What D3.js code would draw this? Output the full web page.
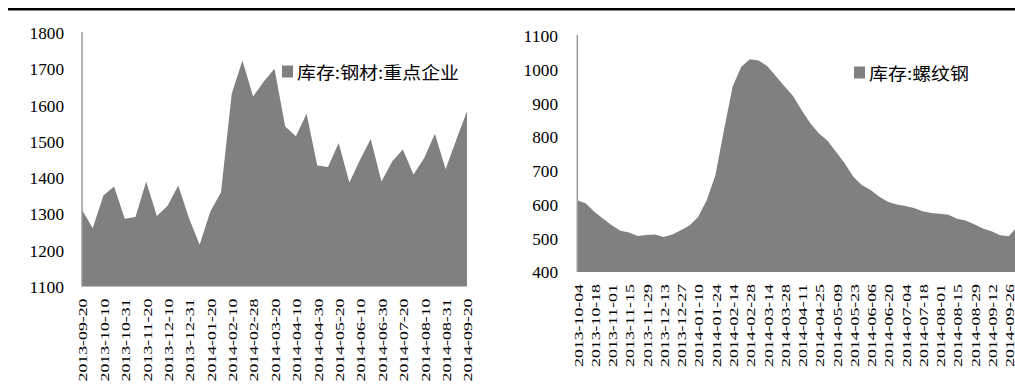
<!DOCTYPE html>
<html><head><meta charset="utf-8">
<script src="https://cdn.jsdelivr.net/npm/d3@7"></script>
<style>body{margin:0;background:#fff}svg{display:block}</style>
</head><body>
<svg id="c" width="1015" height="389"></svg>
<script>
// Left chart: 库存:钢材:重点企业 (dekad data)
const leftDates = ["2013-09-20","2013-09-30","2013-10-10","2013-10-20","2013-10-31","2013-11-10","2013-11-20","2013-11-30","2013-12-10","2013-12-20","2013-12-31","2014-01-10","2014-01-20","2014-01-31","2014-02-10","2014-02-20","2014-02-28","2014-03-10","2014-03-20","2014-03-31","2014-04-10","2014-04-20","2014-04-30","2014-05-10","2014-05-20","2014-05-31","2014-06-10","2014-06-20","2014-06-30","2014-07-10","2014-07-20","2014-07-31","2014-08-10","2014-08-20","2014-08-31","2014-09-10","2014-09-20"];
const leftValues = [1312,1261,1351,1376,1287,1292,1390,1295,1323,1379,1289,1215,1307,1360,1632,1724,1625,1666,1701,1542,1515,1577,1434,1430,1496,1387,1450,1507,1390,1445,1478,1409,1455,1522,1424,1505,1584];
const leftTicksY = [1100,1200,1300,1400,1500,1600,1700,1800];
const leftLegend = "库存:钢材:重点企业";

// Right chart: 库存:螺纹钢 (weekly data)
const rightDates = ["2013-10-04","2013-10-11","2013-10-18","2013-10-25","2013-11-01","2013-11-08","2013-11-15","2013-11-22","2013-11-29","2013-12-06","2013-12-13","2013-12-20","2013-12-27","2014-01-03","2014-01-10","2014-01-17","2014-01-24","2014-02-07","2014-02-14","2014-02-21","2014-02-28","2014-03-07","2014-03-14","2014-03-21","2014-03-28","2014-04-04","2014-04-11","2014-04-18","2014-04-25","2014-05-02","2014-05-09","2014-05-16","2014-05-23","2014-05-30","2014-06-06","2014-06-13","2014-06-20","2014-06-27","2014-07-04","2014-07-11","2014-07-18","2014-07-25","2014-08-01","2014-08-08","2014-08-15","2014-08-22","2014-08-29","2014-09-05","2014-09-12","2014-09-19","2014-09-26","2014-10-10"];
const rightValues = [613,603,578,558,539,522,517,507,510,511,504,511,524,538,563,613,687,821,950,1009,1031,1027,1011,981,951,922,880,841,811,789,756,722,682,657,643,623,608,600,596,590,580,575,573,570,558,553,542,529,521,509,506,535];
const rightTicksY = [400,500,600,700,800,900,1000,1100];
const rightLegend = "库存:螺纹钢";

const svg = d3.select("#c");
const FILL = "#808080";

// top rule
svg.append("rect").attr("x", 8).attr("y", 8).attr("width", 1007).attr("height", 2.5).attr("fill", "#000");

function drawPanel(cfg) {
  const g = svg.append("g");
  const x = d3.scalePoint().domain(cfg.dates).range([cfg.x0, cfg.x1]);
  const y = d3.scaleLinear().domain(cfg.yDomain).range([cfg.yBottom, cfg.yTop]);
  const clipId = "clip" + cfg.id;
  svg.append("clipPath").attr("id", clipId).append("rect")
    .attr("x", cfg.x0).attr("y", 0).attr("width", 1015 - cfg.x0).attr("height", 389);

  const area = d3.area()
    .x((d, i) => x(cfg.dates[i]))
    .y0(y(cfg.yDomain[0]))
    .y1(d => y(d));
  g.append("path").datum(cfg.values).attr("d", area).attr("fill", FILL)
    .attr("clip-path", `url(#${clipId})`);

  // vertical axis line
  g.append("line").attr("x1", cfg.x0).attr("x2", cfg.x0)
    .attr("y1", y(cfg.yDomain[1]) - 1).attr("y2", y(cfg.yDomain[0]))
    .attr("stroke", "#9a9a9a").attr("stroke-width", 1.5);

  // y axis labels
  const ya = d3.axisLeft(y).tickValues(cfg.ticksY).tickFormat(d3.format("d")).tickSize(0).tickPadding(0);
  const yg = g.append("g").attr("transform", `translate(${cfg.yLabelRight},0)`).call(ya);
  yg.select(".domain").remove();
  yg.selectAll("text").attr("font-family", "'Liberation Serif','Times New Roman',serif")
    .attr("font-size", 16).attr("fill", "#000").attr("x", 0).attr("dy", "0.36em")
    .attr("textLength", d => String(d).length * 8.6).attr("lengthAdjust", "spacingAndGlyphs");

  // x axis labels
  const tickDates = cfg.dates.filter((d, i) => i % 2 === 0 && i <= cfg.lastLabelIndex);
  const xa = d3.axisBottom(x).tickValues(tickDates).tickSize(0);
  const xg = g.append("g").attr("transform", `translate(0,${cfg.yBottom})`).call(xa);
  xg.select(".domain").remove();
  xg.selectAll("text")
    .attr("font-family", "'Liberation Serif','Times New Roman',serif")
    .attr("font-size", 13.5).attr("fill", "#000")
    .attr("transform", "rotate(-90)")
    .attr("x", -12).attr("y", 0).attr("dy", "0.36em")
    .style("text-anchor", "end")
    .attr("textLength", 83).attr("lengthAdjust", "spacingAndGlyphs");

  // legend
  g.append("rect").attr("x", cfg.legX).attr("y", cfg.legY - 6).attr("width", 11).attr("height", 12).attr("fill", FILL);
  g.append("text").attr("x", cfg.legX + 15).attr("y", cfg.legY)
    .attr("dominant-baseline", "central")
    .attr("font-family", "'Noto Sans CJK SC',sans-serif").attr("font-size", 17).attr("fill", "#000")
    .attr("textLength", cfg.legLen).attr("lengthAdjust", "spacingAndGlyphs")
    .text(cfg.legend);
}

drawPanel({id: "L", dates: leftDates, values: leftValues, ticksY: leftTicksY,
  yDomain: [1100, 1800], x0: 82, x1: 467, yBottom: 286.5, yTop: 33,
  yLabelRight: 64, lastLabelIndex: 36, legX: 282, legY: 71.5, legLen: 162, legend: leftLegend});

drawPanel({id: "R", dates: rightDates, values: rightValues, ticksY: rightTicksY,
  yDomain: [400, 1100], x0: 577.3, x1: 577.3 + 8.63 * 51, yBottom: 272, yTop: 36,
  yLabelRight: 558, lastLabelIndex: 50, legX: 854, legY: 72.5, legLen: 100, legend: rightLegend});
</script>
</body></html>
